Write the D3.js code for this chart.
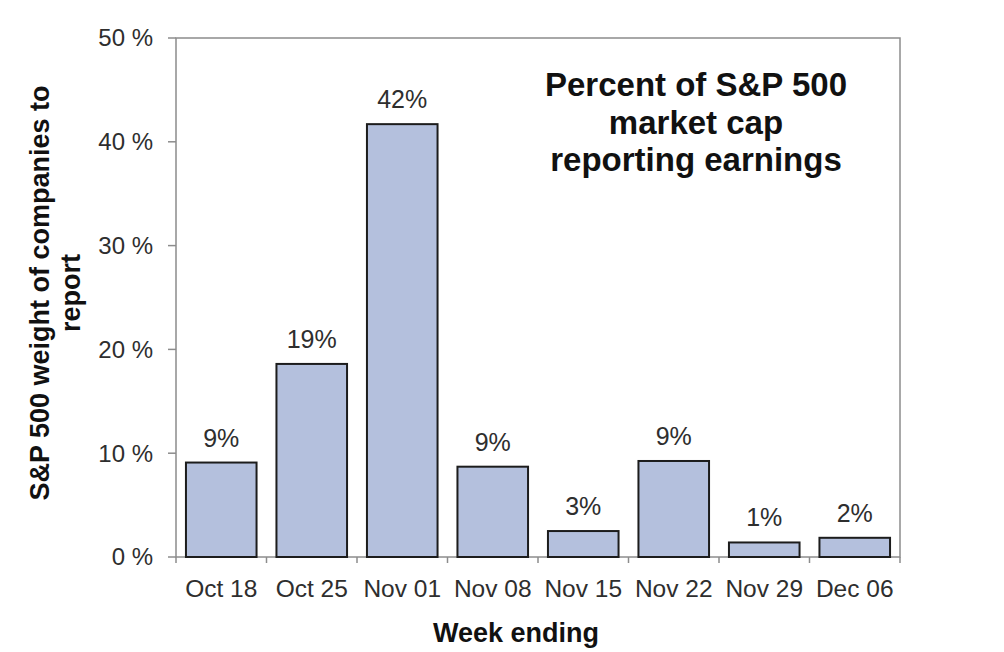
<!DOCTYPE html>
<html>
<head>
<meta charset="utf-8">
<script src="https://cdn.jsdelivr.net/npm/d3@7/dist/d3.min.js"></script>
<style>
  body { margin: 0; background: #fff; }
  text { font-family: Arial, "Liberation Sans", sans-serif; fill: #2e2e2e; }
</style>
</head>
<body>
<div id="chart"></div>
<script>
var weeks = ["Oct 18", "Oct 25", "Nov 01", "Nov 08", "Nov 15", "Nov 22", "Nov 29", "Dec 06"];
var weights = [9.1, 18.6, 41.7, 8.7, 2.5, 9.25, 1.4, 1.85];
var yTicks = [0, 10, 20, 30, 40, 50];
var titleLines = ["Percent of S&P 500", "market cap", "reporting earnings"];

var margin = {top: 38, right: 104, bottom: 95, left: 176},
    width = 1004 - margin.left - margin.right,
    height = 652 - margin.top - margin.bottom;

var svg = d3.select("#chart").append("svg")
    .attr("width", 1004)
    .attr("height", 652);
var g = svg.append("g")
    .attr("transform", "translate(" + margin.left + "," + margin.top + ")");

var x = d3.scaleBand().domain(weeks).range([0, width]).paddingInner(0.22).paddingOuter(0.11);
var y = d3.scaleLinear().domain([0, 50]).range([height, 0]);

// frame
g.append("rect")
  .attr("width", width).attr("height", height)
  .attr("fill", "none").attr("stroke", "#8c8c8c").attr("stroke-width", 1.5);

// y ticks
g.selectAll("line.ytick").data(yTicks).enter().append("line")
  .attr("class", "ytick")
  .attr("x1", -8).attr("x2", 0)
  .attr("y1", function(d) { return y(d); }).attr("y2", function(d) { return y(d); })
  .attr("stroke", "#8c8c8c").attr("stroke-width", 1.5);
g.selectAll("text.ylab").data(yTicks).enter().append("text")
  .attr("class", "ylab")
  .attr("x", -23).attr("y", function(d) { return y(d); })
  .attr("dy", "0.35em").attr("text-anchor", "end")
  .style("font-size", "24px")
  .text(function(d) { return d + " %"; });

// x ticks between categories
var xt = d3.range(weeks.length + 1);
g.selectAll("line.xtick").data(xt).enter().append("line")
  .attr("class", "xtick")
  .attr("x1", function(i) { return i * width / weeks.length; })
  .attr("x2", function(i) { return i * width / weeks.length; })
  .attr("y1", height).attr("y2", height + 6)
  .attr("stroke", "#8c8c8c").attr("stroke-width", 1.5);
g.selectAll("text.xlab").data(weeks).enter().append("text")
  .attr("class", "xlab")
  .attr("x", function(d) { return x(d) + x.bandwidth() / 2; })
  .attr("y", height + 40)
  .attr("text-anchor", "middle")
  .style("font-size", "24.5px")
  .text(function(d) { return d; });

// bars
g.selectAll("rect.bar").data(weights).enter().append("rect")
  .attr("class", "bar")
  .attr("x", function(d, i) { return x(weeks[i]); })
  .attr("width", x.bandwidth())
  .attr("y", function(d) { return y(d); })
  .attr("height", function(d) { return height - y(d); })
  .attr("fill", "#b4c0dd").attr("stroke", "#1c1c1c").attr("stroke-width", 2);

g.selectAll("text.val").data(weights).enter().append("text")
  .attr("class", "val")
  .attr("x", function(d, i) { return x(weeks[i]) + x.bandwidth() / 2; })
  .attr("y", function(d) { return y(d) - 16; })
  .attr("text-anchor", "middle")
  .style("font-size", "25px")
  .text(function(d) { return Math.round(d) + "%"; });

// title
g.append("text")
  .attr("x", 520).attr("y", 58)
  .attr("text-anchor", "middle")
  .style("font-size", "33px").style("font-weight", "bold").style("fill", "#111")
  .selectAll("tspan").data(titleLines).enter().append("tspan")
  .attr("x", 520).attr("dy", function(d, i) { return i ? 37.5 : 0; })
  .text(function(d) { return d; });

// axis titles
svg.append("text")
  .attr("transform", "translate(49,293) rotate(-90)")
  .attr("text-anchor", "middle")
  .style("font-size", "27px").style("font-weight", "bold").style("fill", "#111")
  .text("S&P 500 weight of companies to");
svg.append("text")
  .attr("transform", "translate(80,293) rotate(-90)")
  .attr("text-anchor", "middle")
  .style("font-size", "27px").style("font-weight", "bold").style("fill", "#111")
  .text("report");
svg.append("text")
  .attr("x", 516).attr("y", 642)
  .attr("text-anchor", "middle")
  .style("font-size", "27px").style("font-weight", "bold").style("fill", "#111")
  .text("Week ending");
</script>
</body>
</html>
